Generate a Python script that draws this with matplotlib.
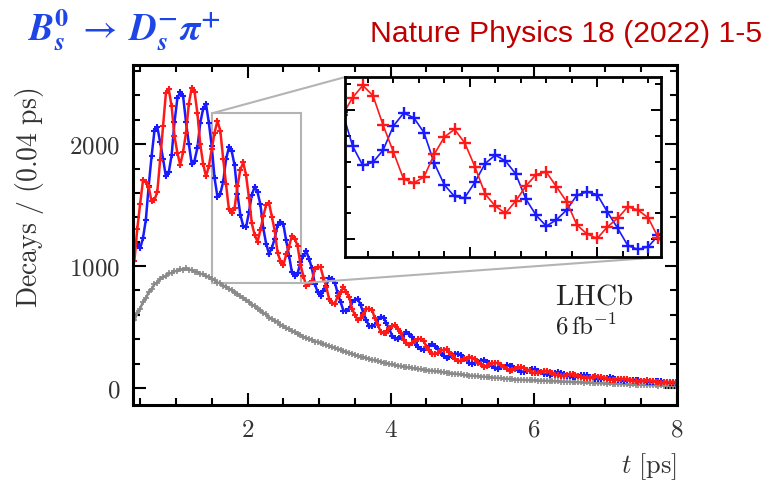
import numpy as np
import matplotlib
matplotlib.use('Agg')
import matplotlib.pyplot as plt
from matplotlib.ticker import MultipleLocator, FuncFormatter
from mpl_toolkits.axes_grid1.inset_locator import mark_inset

plt.rcParams['mathtext.fontset'] = 'cm'

# binning: 0.4 - 8.0 ps in 0.04 ps bins
bin_lo = 0.4
bin_w = 0.04

# B_s0 tagged decays (red)
red_counts = [
    1042, 1305, 1510, 1702, 1690, 1648, 1530, 1541, 1610, 1872,
    2150, 2420, 2450, 2310, 2065, 1930, 1830, 1935, 2090, 2330,
    2460, 2430, 2255, 2000, 1840, 1735, 1820, 1960, 2095, 2190,
    2110, 1880, 1675, 1465, 1435, 1480, 1655, 1790, 1850, 1745,
    1560, 1350, 1255, 1200, 1295, 1410, 1500, 1520, 1405, 1290,
    1110, 1040, 1005, 1095, 1160, 1250, 1225, 1165, 1010, 920,
    835, 855, 880, 975, 995, 990, 905, 830, 730, 700,
    690, 755, 785, 825, 790, 745, 650, 600, 555, 578,
    600, 650, 648, 640, 570, 520, 460, 450, 450, 490,
    505, 518, 485, 452, 395, 370, 350, 368, 382, 405,
    398, 384, 340, 312, 280, 280, 284, 308, 312, 316,
    292, 270, 238, 225, 218, 234, 241, 255, 246, 236,
    208, 193, 176, 182, 186, 204, 205, 206, 185, 172,
    156, 143, 150, 154, 168, 168, 167, 150, 140, 124,
    123, 122, 133, 136, 142, 132, 125, 108, 103, 95,
    102, 106, 115, 112, 110, 98, 92, 81, 84, 84,
    90, 96, 92, 90, 79, 73, 66, 67, 68, 74,
    74, 76, 70, 65, 56, 55, 53, 57, 59, 63,
    59, 57, 50, 46, 42, 45, 45, 50, 49, 48,
]

# anti-B_s0 tagged decays (blue)
blue_counts = [
    1170, 1180, 1145, 1230, 1380, 1660, 1900, 2110, 2140, 2015,
    1880, 1735, 1770, 1910, 2180, 2375, 2430, 2395, 2185, 2005,
    1840, 1865, 1970, 2175, 2290, 2330, 2175, 1985, 1720, 1570,
    1595, 1690, 1875, 1975, 1940, 1825, 1590, 1420, 1330, 1320,
    1440, 1585, 1650, 1605, 1505, 1310, 1185, 1100, 1150, 1225,
    1340, 1365, 1345, 1210, 1085, 950, 920, 940, 1030, 1085,
    1120, 1060, 980, 855, 785, 755, 798, 840, 900, 895,
    865, 775, 705, 635, 630, 648, 705, 725, 732, 680,
    612, 556, 505, 506, 520, 566, 580, 578, 530, 485,
    428, 406, 398, 425, 440, 460, 442, 418, 368, 336,
    318, 312, 335, 348, 360, 342, 322, 283, 260, 245,
    254, 262, 282, 280, 274, 246, 226, 202, 199, 201,
    217, 224, 229, 214, 201, 177, 167, 159, 170, 176,
    188, 184, 178, 158, 146, 132, 135, 137, 150, 152,
    155, 142, 133, 116, 112, 108, 117, 120, 127, 121,
    116, 102, 96, 88, 93, 95, 104, 103, 103, 93,
    87, 77, 75, 73, 80, 83, 86, 80, 76, 66,
    62, 58, 62, 63, 68, 67, 67, 59, 55, 49,
    49, 49, 54, 54, 56, 51, 49, 42, 41, 38,
]

# untagged decays (grey)
grey_counts = [
    555, 615, 650, 705, 735, 785, 810, 850, 865, 895,
    910, 915, 940, 942, 958, 960, 972, 968, 980, 970,
    968, 955, 952, 936, 933, 915, 908, 892, 885, 865,
    858, 838, 832, 810, 803, 782, 773, 751, 741, 718,
    708, 684, 673, 648, 638, 613, 604, 578, 568, 547,
    538, 517, 509, 490, 483, 465, 459, 441, 435, 418,
    412, 398, 395, 381, 378, 365, 362, 349, 346, 333,
    330, 317, 314, 301, 298, 285, 282, 270, 266, 254,
    251, 242, 240, 230, 228, 218, 216, 206, 203, 194,
    193, 185, 184, 177, 176, 169, 168, 161, 160, 154,
    155, 148, 148, 142, 142, 136, 136, 130, 130, 124,
    124, 118, 118, 112, 111, 105, 105, 101, 101, 97,
    97, 93, 93, 89, 89, 85, 85, 81, 81, 77,
    77, 73, 73, 69, 69, 66, 67, 64, 65, 62,
    63, 60, 61, 58, 59, 56, 57, 54, 55, 52,
    53, 50, 51, 48, 49, 46, 47, 44, 45, 42,
    43, 40, 41, 38, 39, 36, 37, 34, 35, 32,
    33, 30, 31, 28, 29, 27, 28, 25, 26, 23,
    25, 22, 23, 20, 22, 19, 20, 18, 19, 16,
]

t = bin_lo + bin_w * (np.arange(len(red_counts)) + 0.5)

c_red = '#ff1a1a'
c_blue = '#1a1aff'
c_grey = '#8a8a8a'
txt_col = '#333333'


def math_fmt(v, pos):
    return r'$%g$' % v


fig = plt.figure(figsize=(7.84, 4.88), dpi=100)
ax = fig.add_axes([0.1696, 0.170, 0.694, 0.697])

ax.plot(t, grey_counts, color=c_grey, lw=1.8, marker='+', ms=4, mew=1.2)
ax.plot(t, blue_counts, color=c_blue, lw=1.8, marker='+', ms=5, mew=1.5)
ax.plot(t, red_counts, color=c_red, lw=1.8, marker='+', ms=5, mew=1.5)

ax.set_xlim(0.4, 8.0)
ax.set_ylim(-140, 2650)
ax.xaxis.set_major_locator(MultipleLocator(2))
ax.xaxis.set_minor_locator(MultipleLocator(0.5))
ax.yaxis.set_major_locator(MultipleLocator(1000))
ax.yaxis.set_minor_locator(MultipleLocator(200))
ax.xaxis.set_major_formatter(FuncFormatter(math_fmt))
ax.yaxis.set_major_formatter(FuncFormatter(math_fmt))
ax.tick_params(which='both', direction='in', top=True, right=True,
               width=1.5, labelsize=18, labelcolor=txt_col)
ax.tick_params(which='major', length=9, pad=9)
ax.tick_params(which='minor', length=5)
for sp in ax.spines.values():
    sp.set_linewidth(2.2)

ax.set_ylabel(r'$\mathrm{Decays\ /\ (0.04\ ps)}$', fontsize=20,
              color=txt_col)
ax.yaxis.set_label_coords(-0.16, 0.61)
fig.text(677 / 784, 1 - 467 / 488, r'$t\ \mathrm{[ps]}$', fontsize=19,
         color=txt_col, ha='right', va='center')

ax.text(0.775, 0.32, r'$\mathrm{LHCb}$', transform=ax.transAxes,
        fontsize=21, color='#222222', va='center')
ax.text(0.775, 0.232, r'$6\,\mathrm{fb}^{-1}$', transform=ax.transAxes,
        fontsize=18, color='#222222', va='center')

# zoomed inset
axins = fig.add_axes([0.440, 0.473, 0.403, 0.369])
axins.plot(t, blue_counts, color=c_blue, lw=1.2, marker='+', ms=9, mew=1.7)
axins.plot(t, red_counts, color=c_red, lw=1.2, marker='+', ms=9, mew=1.7)
axins.set_xlim(1.51, 2.75)
axins.set_ylim(860, 2254)
axins.xaxis.set_major_locator(MultipleLocator(0.5))
axins.xaxis.set_minor_locator(MultipleLocator(0.1))
axins.yaxis.set_major_locator(MultipleLocator(1000))
axins.yaxis.set_minor_locator(MultipleLocator(200))
axins.tick_params(which='both', direction='in', top=True, right=True,
                  width=1.4, labelbottom=False, labelleft=False)
axins.tick_params(which='major', length=7)
axins.tick_params(which='minor', length=4)
for sp in axins.spines.values():
    sp.set_linewidth(2.0)

mark_inset(ax, axins, loc1=2, loc2=4, fc='none', ec='#b4b4b4', lw=1.5)

# headers
fig.text(28 / 784, 1 - 30 / 488,
         r'$\mathbfit{B}_{\mathbfit{s}}^{\mathbf{0}}\;\rightarrow\;'
         r'\mathbfit{D}_{\mathbfit{s}}^{\mathbf{-}}\mathbfit{\pi}^{\mathbf{+}}$',
         math_fontfamily='stix', fontsize=27, color='#1e46e6', va='center')
fig.text(370 / 784, 1 - 34 / 488, 'Nature Physics 18 (2022) 1-5',
         family='Liberation Sans', fontsize=21.7, color='#c00000',
         va='center')

fig.savefig('out.png', dpi=100)
